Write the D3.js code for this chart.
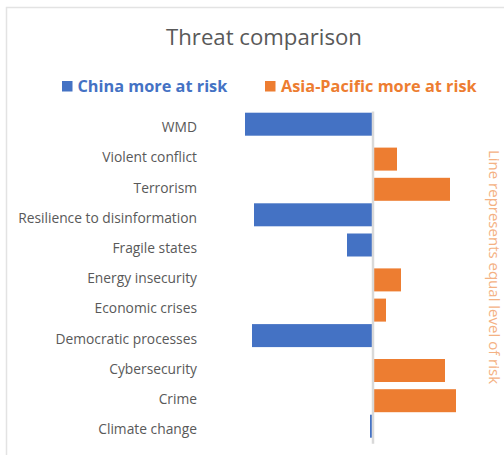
<!DOCTYPE html>
<html><head><meta charset="utf-8">
<script src="https://cdn.jsdelivr.net/npm/d3@7"></script>
<style>html,body{margin:0;padding:0;background:#fff;}svg{display:block;}</style>
</head><body>
<svg id="c" width="504" height="455"></svg>
<script>
const categories = ["WMD","Violent conflict","Terrorism","Resilience to disinformation","Fragile states","Energy insecurity","Economic crises","Democratic processes","Cybersecurity","Crime","Climate change"];
const chinaValues = [-12.8, 0, 0, -11.9, -2.6, 0, 0, -12.1, 0, 0, -0.3];
const asiaValues  = [0, 2.4, 7.7, 0, 0, 2.8, 1.3, 0, 7.2, 8.3, 0];
const seriesNames = ["China more at risk","Asia-Pacific more at risk"];
const colors = ["#4472C4","#ED7D31"];

const svg = d3.select("#c");
const font = "'Open Sans', sans-serif";

// frame
svg.append("path").attr("d","M6.5,455 V7.5 H504").attr("fill","none").attr("stroke","#e3e3e3").attr("stroke-width",1.5);

const x = d3.scaleLinear().domain([-14, 10]).range([233, 473]);
const y = d3.scaleBand().domain(categories).range([111.5, 111.5 + 11*30.2]).paddingInner(0).paddingOuter(0);

// title
svg.append("text").attr("x",264).attr("y",45).attr("text-anchor","middle")
  .attr("font-family",font).attr("font-size",22.2).attr("fill","#595959").text("Threat comparison");

// legend
const leg = [{x:62, tx:77.5},{x:265, tx:281}];
seriesNames.forEach((n,i)=>{
  svg.append("rect").attr("x",leg[i].x).attr("y",81).attr("width",10.5).attr("height",10.5).attr("fill",colors[i]);
  svg.append("text").attr("x",leg[i].tx).attr("y",92).attr("font-family",font).attr("font-weight",700)
    .attr("font-size",16.3).attr("fill",colors[i]).text(n);
});

const barH = 23;
// china bars (upper in cluster)
svg.append("g").selectAll("rect").data(categories.map((c,i)=>({c, v:chinaValues[i]})).filter(d=>d.v!==0))
  .join("rect")
  .attr("x", d=>x(d.v)).attr("width", d=>x(0)-x(d.v))
  .attr("y", d=>y(d.c)+1.2).attr("height", barH).attr("fill", colors[0]);
// asia bars (lower in cluster)
svg.append("g").selectAll("rect").data(categories.map((c,i)=>({c, v:asiaValues[i]})).filter(d=>d.v!==0))
  .join("rect")
  .attr("x", x(0)).attr("width", d=>x(d.v)-x(0))
  .attr("y", d=>y(d.c)+5.9).attr("height", barH).attr("fill", colors[1]);

// category axis
const ax = svg.append("g").attr("transform",`translate(${x(0)},0)`)
  .call(d3.axisLeft(y).tickSize(0).tickPadding(x(0)-197));
ax.select(".domain").attr("stroke","#d9d9d9").attr("stroke-width",2.5)
  .attr("d", `M0,${y.range()[0]}V${y.range()[1]}`);
ax.selectAll("text").attr("font-family",font).attr("font-size",13.8).attr("fill","#595959")
  .attr("dy","0.4em");

// side note
svg.append("text").attr("transform","translate(488.5,267) rotate(90)").attr("text-anchor","middle")
  .attr("font-family",font).attr("font-size",15).attr("fill","#F4B183")
  .text("Line represents equal level of risk");
</script>
</body></html>
